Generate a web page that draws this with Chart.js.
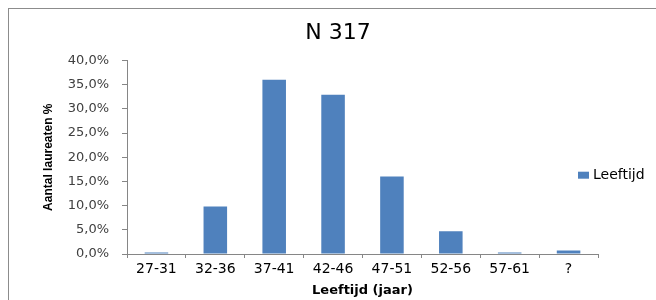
<!DOCTYPE html>
<html>
<head>
<meta charset="utf-8">
<script src="https://cdn.jsdelivr.net/npm/chart.js@4"></script>
<style>
  html, body { margin: 0; padding: 0; background: #fff; overflow: hidden; }
  .frame { position: absolute; left: 8px; top: 8px; width: 700px; height: 400px; border: 1px solid #8c8c8c; }
  #wrap { position: absolute; left: 0; top: 0; width: 656px; height: 300px; }
</style>
</head>
<body>
<div class="frame"></div>
<div id="wrap"><canvas id="ageChart" width="656" height="300"></canvas></div>
<script>
// age groups (jaar) and share of laureates in %
const ageGroups = ['27-31', '32-36', '37-41', '42-46', '47-51', '52-56', '57-61', '?'];
const sharePct = [0.3, 9.8, 36.0, 32.9, 16.0, 4.7, 0.3, 0.7];
const yTicks = [0, 5, 10, 15, 20, 25, 30, 35, 40];

const axisGray = '#868686';

// Excel puts the legend item over the end of the x axis, which the
// built-in legend can't do (it gets clipped to its own box), so draw it here
const sideLegend = {
    id: 'sideLegend',
    afterDraw(chart) {
        const { ctx, chartArea } = chart;
        const ds = chart.data.datasets[0];
        const x = chartArea.right - 20;
        const y = (chartArea.top + chartArea.bottom) / 2 + 18;
        ctx.save();
        ctx.fillStyle = ds.backgroundColor;
        ctx.fillRect(x, y - 3.5, 11, 7);
        ctx.fillStyle = '#000';
        ctx.font = '14px "DejaVu Sans"';
        ctx.textBaseline = 'middle';
        ctx.fillText(ds.label, x + 15, y);
        ctx.restore();
    }
};

new Chart(document.getElementById('ageChart'), {
    type: 'bar',
    data: {
        labels: ageGroups,
        datasets: [{
            label: 'Leeftijd',
            data: sharePct,
            backgroundColor: '#4F81BD',
            categoryPercentage: 1,
            barPercentage: 0.4
        }]
    },
    options: {
        responsive: false,
        animation: false,
        layout: { padding: { left: 40, right: 20, top: 0, bottom: 0 } },
        plugins: {
            tooltip: { enabled: false },
            title: {
                display: true,
                text: 'N 317',
                color: '#000',
                font: { family: 'DejaVu Sans', size: 22, weight: 'normal' },
                padding: { top: 20, bottom: 14 }
            },
            // empty legend only reserves 38px on the right
            legend: {
                position: 'right',
                fullSize: false,
                maxWidth: 38,
                labels: { padding: 28, filter: () => false }
            }
        },
        scales: {
            x: {
                afterFit(scale) { scale.height = 46; },
                grid: { drawOnChartArea: false, tickLength: 4, color: axisGray, offset: true },
                border: { color: axisGray },
                ticks: {
                    autoSkip: false, maxRotation: 0, padding: 3, color: '#000',
                    font: { family: 'DejaVu Sans', size: 14 }
                },
                title: {
                    display: true,
                    text: 'Leeftijd (jaar)',
                    color: '#000',
                    font: { family: 'DejaVu Sans', size: 13, weight: 'bold' },
                    padding: { top: 0, bottom: 2 }
                }
            },
            y: {
                min: 0,
                max: 40,
                afterFit(scale) { scale.width = 87; },
                afterBuildTicks(scale) { scale.ticks = yTicks.map(v => ({ value: v })); },
                grid: { drawOnChartArea: false, tickLength: 5, color: axisGray },
                border: { color: axisGray },
                ticks: {
                    padding: 13, color: '#404040',
                    font: { family: 'DejaVu Sans', size: 13 },
                    callback: v => v.toFixed(1).replace('.', ',') + '%'
                },
                title: {
                    display: true,
                    text: 'Aantal laureaten %',
                    color: '#000',
                    font: { family: 'Liberation Sans', size: 12, weight: 'bold' },
                    padding: { top: 1, bottom: 0 }
                }
            }
        }
    },
    plugins: [sideLegend]
});
</script>
</body>
</html>
